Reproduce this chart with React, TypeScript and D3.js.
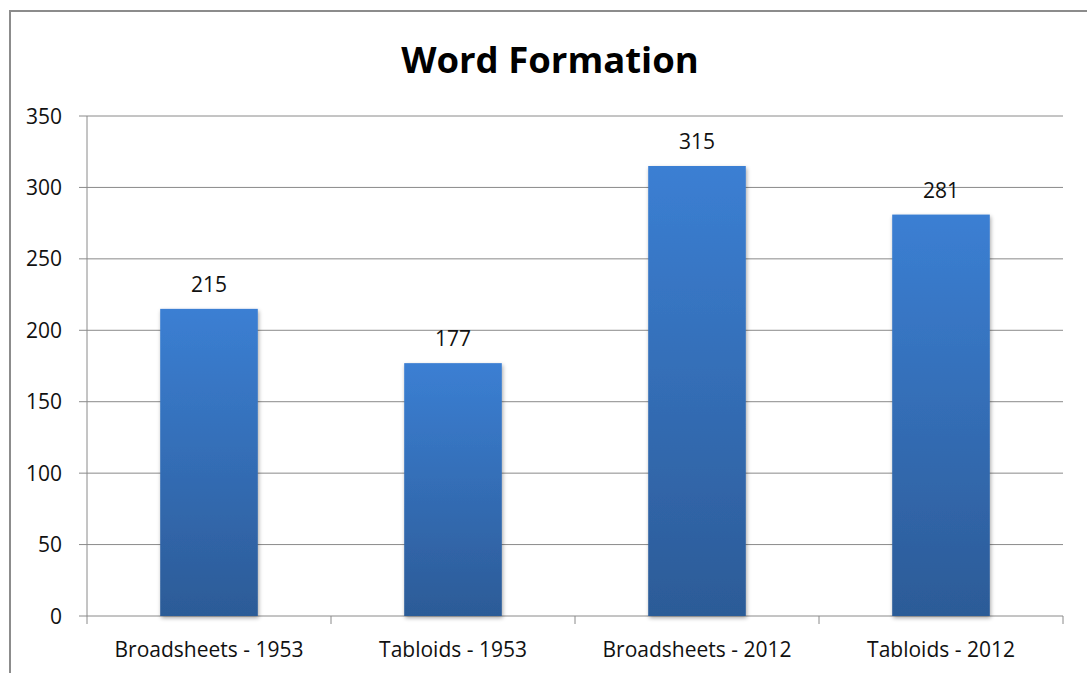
import React from "react";
import * as d3 from "d3";

const categories = ["Broadsheets - 1953", "Tabloids - 1953", "Broadsheets - 2012", "Tabloids - 2012"];
const values = [215, 177, 315, 281];
const yTicks = [0, 50, 100, 150, 200, 250, 300, 350];
const title = "Word Formation";

export default function App() {
  const W = 1087, H = 673;
  const left = 87, right = 1063, top = 116, bottom = 616;
  const x = d3.scaleBand<string>().domain(categories).range([left, right]).paddingInner(0.6).paddingOuter(0.3);
  const xb = d3.scaleBand<string>().domain(categories).range([left, right]);
  const y = d3.scaleLinear().domain([0, 350]).range([bottom, top]);
  const font = "'Open Sans', sans-serif";
  return (
    <svg width={W} height={H} style={{ position: "absolute", left: 0, top: 0, background: "#fff" }}>
      <defs>
        <linearGradient id="bar" x1="0" y1="0" x2="0" y2="1">
          <stop offset="0" stopColor="#3b7fd3" />
          <stop offset="1" stopColor="#2c5b97" />
        </linearGradient>
        <filter id="sh" x="-20%" y="-20%" width="140%" height="140%">
          <feGaussianBlur in="SourceAlpha" stdDeviation="2" />
          <feOffset dx="1" dy="2" />
          <feComponentTransfer><feFuncA type="linear" slope="0.35" /></feComponentTransfer>
          <feMerge><feMergeNode /><feMergeNode in="SourceGraphic" /></feMerge>
        </filter>
      </defs>
      <rect x={10} y={11} width={W} height={H} fill="#fff" stroke="#8c8c8c" strokeWidth={2} />
      <text x={550} y={73} textAnchor="middle" fontFamily={font} fontWeight="bold" fontSize={36.5} fill="#000">{title}</text>
      {yTicks.map(t => (
        <g key={t}>
          <line x1={left - 8} x2={right} y1={y(t)} y2={y(t)} stroke="#8a8a8a" strokeWidth={1} />
          <text x={62} y={y(t)} dy="0.36em" textAnchor="end" fontFamily={font} fontSize={21} fill="#111">{t}</text>
        </g>
      ))}
      <line x1={left} x2={left} y1={top} y2={bottom + 8} stroke="#8a8a8a" />
      {categories.map(c => (
        <line key={"t" + c} x1={(xb(c) as number) + xb.bandwidth()} x2={(xb(c) as number) + xb.bandwidth()} y1={bottom} y2={bottom + 8} stroke="#8a8a8a" />
      ))}
      {categories.map((c, i) => (
        <g key={c}>
          <rect x={x(c)} y={y(values[i])} width={x.bandwidth()} height={bottom - y(values[i])} fill="url(#bar)" filter="url(#sh)" />
          <text x={(x(c) as number) + x.bandwidth() / 2} y={y(values[i]) - 17} textAnchor="middle" fontFamily={font} fontSize={21} fill="#111">{values[i]}</text>
          <text x={(xb(c) as number) + xb.bandwidth() / 2} y={657} textAnchor="middle" fontFamily={font} fontSize={21} fill="#111">{c}</text>
        </g>
      ))}
    </svg>
  );
}
